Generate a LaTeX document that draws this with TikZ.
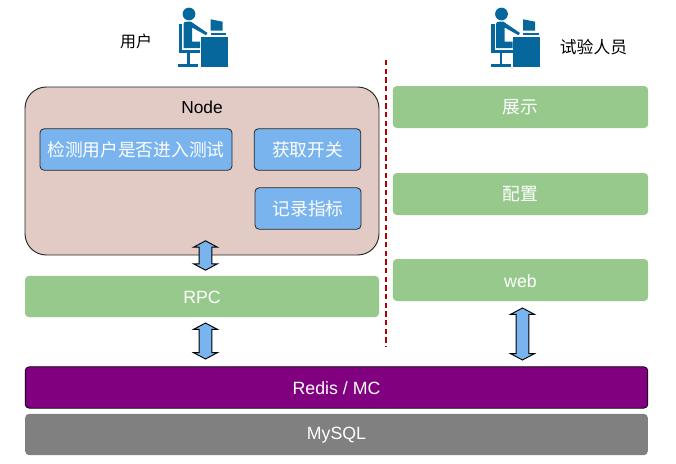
\documentclass[tikz,border=0pt]{standalone}
\usepackage{fontspec}
\setmainfont{Liberation Sans}
\newfontfamily\cjk{Noto Sans CJK SC}
\usetikzlibrary{shapes.arrows}
\definecolor{gbox}{HTML}{97C98D}
\definecolor{bbox}{HTML}{7AB4EE}
\definecolor{nodebg}{HTML}{E1CBC4}
\definecolor{iconblue}{HTML}{05679B}
\definecolor{purplebox}{HTML}{800080}
\definecolor{graybox}{HTML}{808080}
\newcommand{\lowered}[1]{\raisebox{-.8pt}[\height][\depth]{#1}}
\tikzset{
  rbox/.style={rectangle,rounded corners=3pt,inner sep=0pt,text=white,font=\fontsize{13.3pt}{15pt}\selectfont},
  greenbox/.style={rbox,fill=gbox},
  greencjk/.style={greenbox,font=\cjk\fontsize{13.3pt}{15pt}\selectfont},
  bluebox/.style={rbox,fill=bbox,draw=black!85,line width=.6pt,font=\cjk\fontsize{13.3pt}{15pt}\selectfont},
  darrow/.style={shape=double arrow,draw=black,fill=bbox,line width=.7pt,inner xsep=0pt,inner ysep=4.4pt,rotate=90,
     double arrow head extend=4.2pt,double arrow head indent=0pt,double arrow tip angle=124},
  personicon/.pic={
    \fill[iconblue] (189,14) circle (6.4);
    \fill[iconblue] (178.5,24) rectangle (182,49.5);
    \fill[iconblue] (178.5,49.5) rectangle (200,52.7);
    \fill[iconblue] (187.3,52.7) rectangle (189.7,64);
    \fill[iconblue] (178,64) rectangle (198.3,66.7);
    \fill[iconblue] (183.6,24) .. controls (183.6,22) and (185,21.7) .. (187,21.7) -- (191,21.7)
       -- (207.5,33) -- (206,35.2) -- (192,27.5) -- (192,41.5) -- (200,41.5) -- (200,48.2) -- (183.6,48.2) -- cycle;
    \fill[iconblue] (200.7,36.7) rectangle (227.7,66.7);
    \fill[iconblue] (210.7,19.3) -- (222.7,21.7) -- (222.7,30.7) -- (210.7,30.7) -- cycle;
    \fill[iconblue] (210.7,32.7) rectangle (226,35);
  }
}
\begin{document}
\begin{tikzpicture}[x=0.75pt,y=-0.75pt]
\useasboundingbox (0,0) rectangle (676,464);
\pic at (0,0) {personicon};
\pic at (312.5,0) {personicon};
\node[inner sep=0pt,font=\cjk\fontsize{12pt}{14pt}\selectfont] (user) at (136,41) {用户};
\node[inner sep=0pt,font=\cjk\fontsize{12.6pt}{14pt}\selectfont] (tester) at (593.5,47.5) {试验人员};
\draw[red!70!black,line width=.9pt,dash pattern=on 4pt off 2.5pt] (386,60) coordinate (ds) -- (386,347) coordinate (de);
\node[rectangle,rounded corners=16pt,draw=black!85,line width=.7pt,fill=nodebg,minimum width=265.5pt,minimum height=126pt,inner sep=0pt] (nodebox) at (202,171) {};
\node[inner sep=0pt,font=\fontsize{13pt}{15pt}\selectfont] (nodetitle) at (202,107.5) {Node};
\node[bluebox,minimum width=144pt,minimum height=31pt] (check) at (136,149.5) {检测用户是否进入测试};
\node[bluebox,minimum width=80pt,minimum height=31pt] (fetch) at (307.5,149.5) {获取开关};
\node[bluebox,minimum width=79.5pt,minimum height=31pt] (record) at (308,208.5) {记录指标};
\node[greenbox,minimum width=265.5pt,minimum height=31pt] (rpc) at (202,296.5) {\lowered{RPC}};
\node[greencjk,minimum width=191.5pt,minimum height=31.5pt] (show) at (520.5,107) {展示};
\node[greencjk,minimum width=191.5pt,minimum height=31.5pt] (config) at (520.5,194) {配置};
\node[greenbox,minimum width=191.5pt,minimum height=31.5pt] (web) at (520.5,280) {\lowered{web}};
\node[rbox,fill=purplebox,draw=black,line width=.6pt,minimum width=467pt,minimum height=31pt] (redis) at (336.5,387.5) {\lowered{Redis / MC}};
\node[rbox,fill=graybox,minimum width=467pt,minimum height=31pt] (mysql) at (336.5,434.5) {\lowered{MySQL}};
\node[darrow,minimum height=22pt] (a1) at (205.5,255.5) {};
\node[darrow,minimum height=27pt] (a2) at (205.5,341) {};
\node[darrow,minimum height=39pt] (a3) at (522.5,334) {};
\end{tikzpicture}
\end{document}
